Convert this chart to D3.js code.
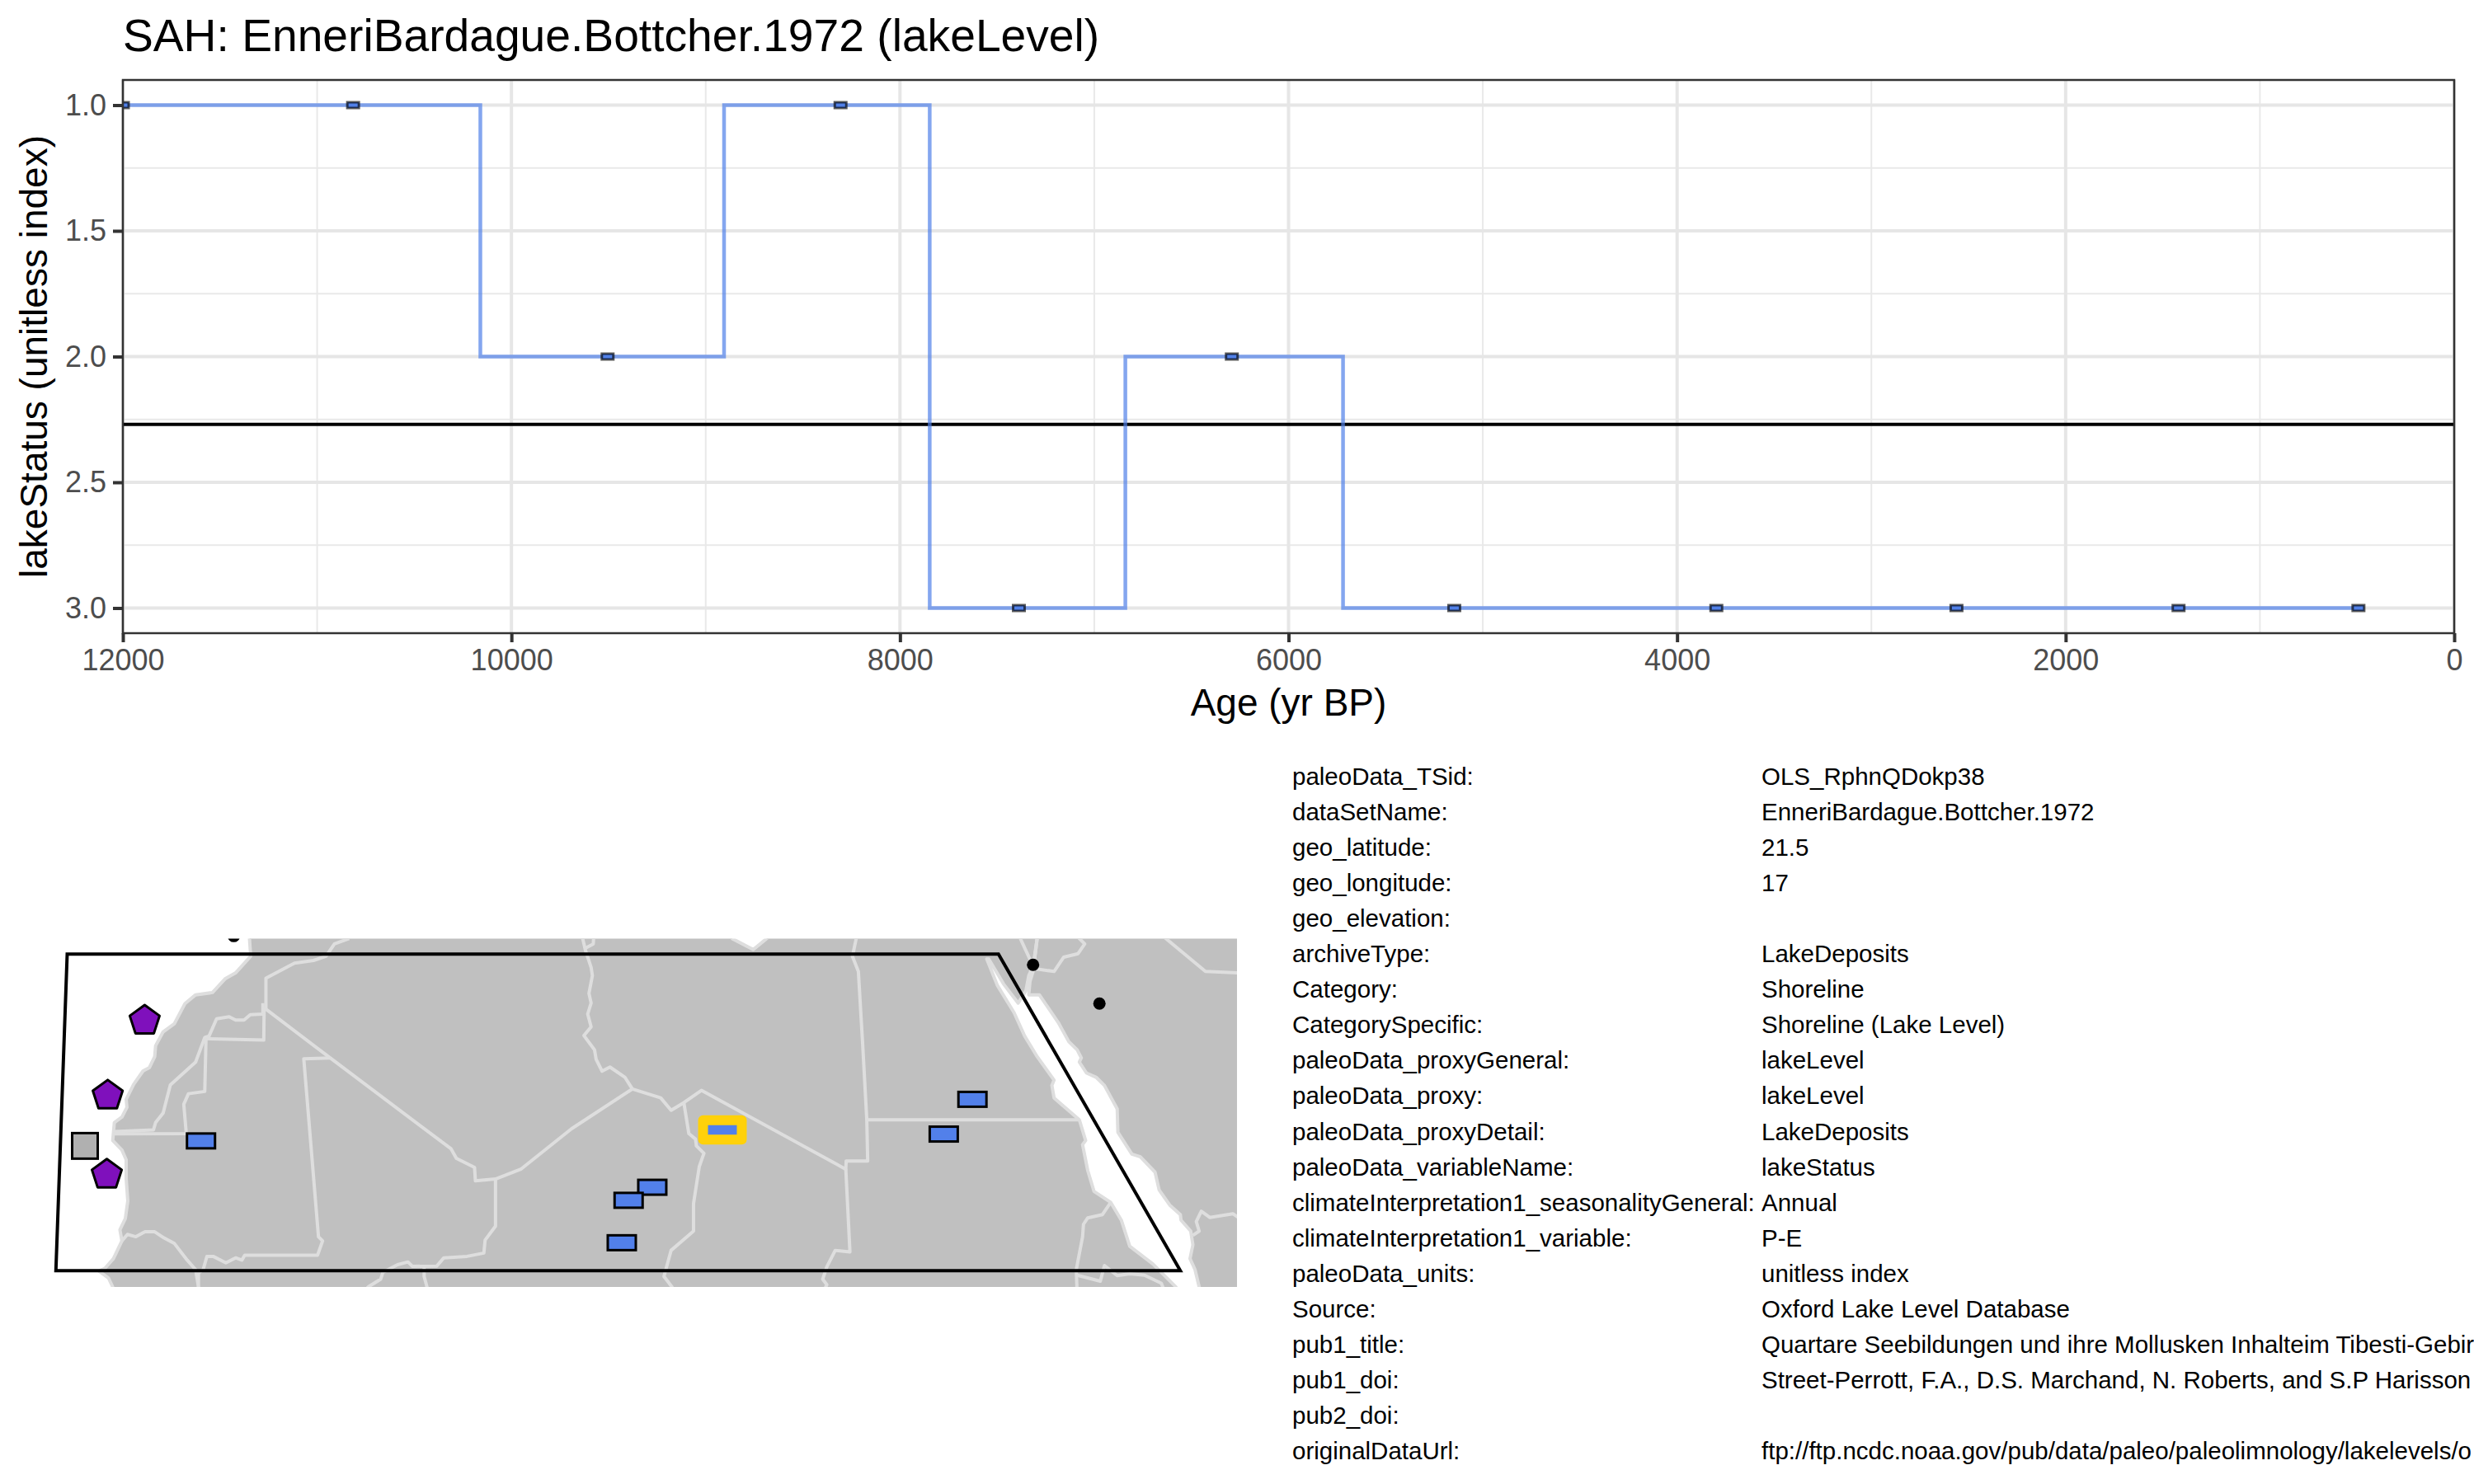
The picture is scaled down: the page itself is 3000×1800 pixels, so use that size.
<!DOCTYPE html>
<html>
<head>
<meta charset="utf-8">
<script src="https://cdn.jsdelivr.net/npm/d3@7"></script>
<style>
html, body { margin: 0; padding: 0; background: #fff; overflow: hidden; }
text { font-family: "Liberation Sans", Arial, sans-serif; }
</style>
</head>
<body>
<div id="chart"></div>
<script>
const titleText = "SAH: EnneriBardague.Bottcher.1972 (lakeLevel)";
const xLabel = "Age (yr BP)";
const yLabel = "lakeStatus (unitless index)";

// time series
const ages = [12000, 10815, 9505, 8306, 7388, 6292, 5147, 3798, 2562, 1419, 493];
const status = [1, 1, 2, 1, 3, 2, 3, 3, 3, 3, 3];
const meanStatus = 2.27;
const xMajor = [12000, 10000, 8000, 6000, 4000, 2000, 0];
const xMinor = [11000, 9000, 7000, 5000, 3000, 1000];
const yMajor = [1, 1.5, 2, 2.5, 3];
const yMinor = [1.25, 1.75, 2.25, 2.75];

// metadata table, long values stop where the reference runs off the page
const metaKeys = ["paleoData_TSid:", "dataSetName:", "geo_latitude:", "geo_longitude:", "geo_elevation:",
    "archiveType:", "Category:", "CategorySpecific:", "paleoData_proxyGeneral:", "paleoData_proxy:",
    "paleoData_proxyDetail:", "paleoData_variableName:", "climateInterpretation1_seasonalityGeneral:",
    "climateInterpretation1_variable:", "paleoData_units:", "Source:", "pub1_title:", "pub1_doi:",
    "pub2_doi:", "originalDataUrl:"];
const metaValues = ["OLS_RphnQDokp38", "EnneriBardague.Bottcher.1972", "21.5", "17", "",
    "LakeDeposits", "Shoreline", "Shoreline (Lake Level)", "lakeLevel", "lakeLevel",
    "LakeDeposits", "lakeStatus", "Annual", "P-E", "unitless index", "Oxford Lake Level Database",
    "Quartare Seebildungen und ihre Mollusken Inhalteim Tibesti-Gebir",
    "Street-Perrott, F.A., D.S. Marchand, N. Roberts, and S.P Harisson",
    "", "ftp://ftp.ncdc.noaa.gov/pub/data/paleo/paleolimnology/lakelevels/o"];

// map, all lon/lat
const africaLand = [[-9.4,31.2],[-9.3,29.89],[-10.14,29.09],[-10.73,28.8],[-11.43,28.14],[-12.37,28.03],[-12.96,27.61],
    [-13.55,26.64],[-14.18,26.24],[-14.6,25.57],[-14.65,25.04],[-14.95,24.51],[-15.3,24.35],[-15.82,23.71],[-16.24,22.98],
    [-16.2,22.59],[-16.48,22.12],[-16.9,21.86],[-16.99,20.99],[-16.48,20.53],[-16.24,20.06],[-16.24,19.13],[-16.15,18.07],
    [-16.29,17.21],[-16.59,16.68],[-16.48,16.14],[-16.95,15.28],[-17.42,14.82],[-17.77,14.68],[-17.23,14.35],[-16.99,13.91],
    [-16.9,13.5],[42.4,13.5],[42.29,13.91],[41,15.02],[39.71,15.88],[39.24,17.14],[38.65,18],[37.72,18.53],[37.37,19.53],
    [37.08,20.79],[37.25,20.99],[36.9,21.99],[35.49,23.05],[35.37,23.65],[35.49,23.91],[34.55,25.04],[33.85,26.04],
    [33.26,27.17],[32.32,28.5],[31.74,29.76],[31.85,29.76],[32.67,28.56],[33.49,27.63],[33.92,28.23],[34.08,28.96],
    [34.32,29.42],[34.55,30.75],[34.7,31.5],[19.6,31.5],[19.47,30.75],[18.72,30.22],[17.54,30.75],[17.2,31.5]];
const arabiaLand = [[34.32,29.16],[34.15,28.69],[34.08,28.03],[34.67,28.03],[35.72,26.7],[36.31,25.77],[36.78,25.37],
    [37.01,24.98],[36.9,24.78],[37.3,24.25],[37.83,24.05],[38.3,23.65],[39.01,22.52],[39.05,21.39],[39.83,20.33],
    [40.3,20.2],[41.12,19.46],[41.35,18.6],[41.94,17.87],[42.53,17.41],[42.57,17.14],[43.11,16.61],[43.23,15.95],
    [43.07,15.28],[43.35,14.75],[43.58,13.91],[43.7,13.5],[47,13.5],[47,31.5],[34.9,31.5],[34.55,30.75]];
const borders = [
    [[-3.81,30.75],[-4.63,30.49],[-5.1,29.89],[-5.8,29.69],[-6.86,29.56],[-8.45,28.83],[-8.45,27.37]],
    [[-8.62,27.63],[-8.62,27.1],[-9.32,27.07],[-9.67,26.81],[-10.14,26.81],[-10.5,26.97],[-11.2,26.87],[-11.62,26.04],
     [-11.86,25.97],[-12.37,24.78],[-13.78,23.67],[-14.18,22.32],[-14.6,21.86],[-14.72,21.5],[-16.9,21.42]],
    [[-11.79,25.91],[-8.57,25.84],[-8.55,27.43]],
    [[-11.79,25.91],[-11.86,23.36],[-12.77,23.25],[-13.03,22.74],[-12.89,21.32],[-16.9,21.31]],
    [[-8.55,27.4],[-4.87,24.98],[1.87,20.59],[2.17,20.13],[3.18,19.69],[3.23,19.04],[4.35,19.13],[5.76,19.6],[8.58,21.55],[11.98,23.48]],
    [[-4.87,24.98],[-6.34,24.94],[-5.52,16.34],[-5.29,16.14],[-5.57,15.45],[-9.63,15.45],[-9.79,15.21],[-10.14,15.32],
     [-10.68,15.08],[-11.39,15.39],[-11.74,15.39],[-11.95,14.75],[-12.21,14.6],[-12.21,13.5]],
    [[-16.48,16.14],[-16.17,16.45],[-15.7,16.34],[-15.19,16.58],[-14.65,16.58],[-14.13,16.28],[-13.55,16.01],[-12.84,15.21],[-12.37,14.75],[-12.21,13.91]],
    [[4.35,19.13],[4.35,16.85],[3.77,16.18],[3.7,15.55],[2.76,15.39],[1.47,15.32],[1.07,14.92],[-0.29,14.91],[-0.53,15.12],[-1.11,14.99],[-1.93,14.62],[-2.05,14.29],[-2.75,13.91],[-3.2,13.5]],
    [[0.37,14.88],[0.37,14.42],[0.53,13.91],[0.6,13.5]],
    [[9.21,31],[9.21,30.75],[9.37,30.16],[9.68,29.36],[9.75,28.96],[9.56,28.1],[9.68,27.63],[9.49,27.1],[9.68,26.48],[9.28,26.06],
     [9.87,25.37],[9.96,24.91],[10.29,24.34],[10.73,24.54],[11.56,24.05],[11.98,23.48]],
    [[9.37,30.29],[9.8,30.49],[9.84,31]],
    [[11.98,23.48],[13.56,23.05],[14.14,22.45],[14.85,22.82],[15.83,23.41],[23.88,19.6],[23.9,20],[25.1,20],[25.05,21.99],
     [24.82,25.64],[24.58,29.16],[24.25,29.89],[24.46,30.75],[24.5,31.2]],
    [[25.05,21.99],[36.9,21.99]],
    [[23.88,19.6],[24.11,15.61],[23.29,15.68],[22.82,14.88],[22.59,14.29],[22.82,14.02],[22.59,13.6]],
    [[14.85,22.82],[15.13,21.32],[15.5,21.06],[15.55,20.73],[15.97,20.37],[15.71,19.73],[15.39,17.94],[15.39,16.61],[14.14,15.68],[13.74,14.42],[14.19,13.91],[14.4,13.5]],
    [[38.65,18],[38.19,17.41],[37.37,17.25],[37.13,16.94],[37.08,16.34],[36.73,14.75],[36.78,13.5]],
    [[36.78,14.48],[38.07,14.19],[38.3,14.95],[39.01,14.46],[39.71,14.55],[40.53,14.48],[41.47,14.09],[41.7,13.6]],
    [[33.61,30.75],[34.32,29.42]],
    [[34.55,30.75],[34.32,29.2]],
    [[36.9,31],[36.9,30.75],[37.2,30.49],[36.83,30.02],[36.03,29.85],[35.49,29.16],[34.43,29.29]],
    [[41.1,31.2],[43.93,29.16],[46,29.08]],
    [[43.23,16.41],[43.58,16.61],[43.42,17.07],[43.7,17.57],[44.17,17.27],[45.46,17.45],[45.69,17.31],[46,17.2]]
];
const regionBox = [[-19.53,30],[-20.16,14.7],[42.53,14.7],[32.39,30]];
const blackSites = [[-10.24,30.87],[34.32,29.48],[38.02,27.61]];
const blueSites = [[-12.07,20.97],[11.39,16.05],[13.09,18.73],[11.77,18.1],[30.94,22.98],[29.34,21.3]];
const graySites = [[-18.54,20.73]];
const purpleSites = [[-15.21,26.78],[-17.27,23.16],[-17.32,19.34]];
const thisSite = [17, 21.5];

const width = 3000, height = 1800;
const panel = {left: 149, right: 2976, top: 97, bottom: 768};

const svg = d3.select("#chart").append("svg")
    .attr("width", width)
    .attr("height", height)
    .style("display", "block");

const x = d3.scaleLinear().domain([12000, 0]).range([panel.left, panel.right]);
const y = d3.scaleLinear().domain([0.9, 3.1]).range([panel.top, panel.bottom]);

const defs = svg.append("defs");
defs.append("clipPath").attr("id", "panelClip").append("rect")
    .attr("x", panel.left).attr("y", panel.top)
    .attr("width", panel.right - panel.left).attr("height", panel.bottom - panel.top);
defs.append("clipPath").attr("id", "mapClip").append("rect")
    .attr("x", 0).attr("y", 1138.5).attr("width", 1500).attr("height", 422.5);

// top panel grid
const grid = svg.append("g").attr("fill", "none");
grid.selectAll(".xmin").data(xMinor).join("line").attr("class", "xmin")
    .attr("x1", d => x(d)).attr("x2", d => x(d)).attr("y1", panel.top).attr("y2", panel.bottom)
    .attr("stroke", "#E9E9E9").attr("stroke-width", 2);
grid.selectAll(".ymin").data(yMinor).join("line").attr("class", "ymin")
    .attr("y1", d => y(d)).attr("y2", d => y(d)).attr("x1", panel.left).attr("x2", panel.right)
    .attr("stroke", "#E9E9E9").attr("stroke-width", 2);
grid.selectAll(".xmaj").data(xMajor).join("line").attr("class", "xmaj")
    .attr("x1", d => x(d)).attr("x2", d => x(d)).attr("y1", panel.top).attr("y2", panel.bottom)
    .attr("stroke", "#E6E6E6").attr("stroke-width", 4);
grid.selectAll(".ymaj").data(yMajor).join("line").attr("class", "ymaj")
    .attr("y1", d => y(d)).attr("y2", d => y(d)).attr("x1", panel.left).attr("x2", panel.right)
    .attr("stroke", "#E6E6E6").attr("stroke-width", 4);

const plot = svg.append("g").attr("clip-path", "url(#panelClip)");

plot.append("line")
    .attr("x1", panel.left).attr("x2", panel.right)
    .attr("y1", y(meanStatus)).attr("y2", y(meanStatus))
    .attr("stroke", "#000").attr("stroke-width", 4);

const series = ages.map((a, i) => ({age: a, value: status[i]}));

plot.append("path")
    .datum(series)
    .attr("fill", "none")
    .attr("stroke", "#5080E8")
    .attr("stroke-opacity", 0.7)
    .attr("stroke-width", 4.5)
    .attr("d", d3.line().curve(d3.curveStep).x(d => x(d.age)).y(d => y(d.value)));

plot.selectAll(".pt").data(series).join("rect")
    .attr("class", "pt")
    .attr("x", d => x(d.age) - 7)
    .attr("y", d => y(d.value) - 3.5)
    .attr("width", 14)
    .attr("height", 7)
    .attr("fill", "#5080E8")
    .attr("stroke", "#000")
    .attr("stroke-opacity", 0.65)
    .attr("stroke-width", 3);

svg.append("rect")
    .attr("x", panel.left).attr("y", panel.top)
    .attr("width", panel.right - panel.left).attr("height", panel.bottom - panel.top)
    .attr("fill", "none").attr("stroke", "#333333").attr("stroke-width", 2.5);

// axes
const xAxis = svg.append("g").attr("transform", `translate(0,${panel.bottom})`)
    .call(d3.axisBottom(x).tickValues(xMajor).tickFormat(d3.format("d")).tickSize(11).tickPadding(8));
const yAxis = svg.append("g").attr("transform", `translate(${panel.left},0)`)
    .call(d3.axisLeft(y).tickValues(yMajor).tickFormat(d3.format(".1f")).tickSize(12).tickPadding(8));
[xAxis, yAxis].forEach(a => {
    a.select(".domain").remove();
    a.selectAll("line").attr("stroke", "#333333").attr("stroke-width", 4);
    a.selectAll("text").attr("fill", "#4D4D4D").style("font-size", "36px").style("font-family", '"Liberation Sans"');
});

svg.append("text")
    .attr("x", panel.left).attr("y", 62)
    .attr("font-size", 55.2).attr("fill", "#000")
    .text(titleText);

svg.append("text")
    .attr("x", (panel.left + panel.right) / 2).attr("y", 868)
    .attr("text-anchor", "middle")
    .attr("font-size", 46).attr("fill", "#000")
    .text(xLabel);

svg.append("text")
    .attr("transform", `translate(57,${(panel.top + panel.bottom) / 2}) rotate(-90)`)
    .attr("text-anchor", "middle")
    .attr("font-size", 46).attr("fill", "#000")
    .text(yLabel);

// map panel
const lon = d3.scaleLinear().domain([-20, 45]).range([71.25, 1485]);
const lat = d3.scaleLinear().domain([14, 31]).range([1558.8, 1132.1]);
const geoLine = d3.line().x(d => lon(d[0])).y(d => lat(d[1]));

const map = svg.append("g").attr("clip-path", "url(#mapClip)");

map.selectAll(".land").data([africaLand, arabiaLand]).join("path")
    .attr("class", "land")
    .attr("d", d => geoLine(d) + "Z")
    .attr("fill", "#C0C0C0")
    .attr("stroke", "#DEDEDE")
    .attr("stroke-width", 4)
    .attr("stroke-linejoin", "round");

map.selectAll(".border").data(borders).join("path")
    .attr("class", "border")
    .attr("d", d => geoLine(d))
    .attr("fill", "none")
    .attr("stroke", "#DEDEDE")
    .attr("stroke-width", 4)
    .attr("stroke-linejoin", "round");

map.append("path")
    .attr("d", geoLine(regionBox) + "Z")
    .attr("fill", "none")
    .attr("stroke", "#000")
    .attr("stroke-width", 4)
    .attr("stroke-linejoin", "miter");

map.selectAll(".dot").data(blackSites).join("circle")
    .attr("class", "dot")
    .attr("cx", d => lon(d[0])).attr("cy", d => lat(d[1]))
    .attr("r", 7.5)
    .attr("fill", "#000");

map.selectAll(".gray").data(graySites).join("rect")
    .attr("class", "gray")
    .attr("x", d => lon(d[0]) - 15.5).attr("y", d => lat(d[1]) - 15.5)
    .attr("width", 31).attr("height", 31)
    .attr("fill", "#B0B0B0").attr("stroke", "#000").attr("stroke-width", 3);

const pentagon = d3.range(5).map(i => {
    const t = -Math.PI / 2 + i * 2 * Math.PI / 5;
    return [19 * Math.cos(t), 19 * Math.sin(t)];
});
map.selectAll(".purple").data(purpleSites).join("path")
    .attr("class", "purple")
    .attr("transform", d => `translate(${lon(d[0])},${lat(d[1])})`)
    .attr("d", d3.line()(pentagon) + "Z")
    .attr("fill", "#7F10BC").attr("stroke", "#000").attr("stroke-width", 3).attr("stroke-linejoin", "round");

map.selectAll(".blue").data(blueSites).join("rect")
    .attr("class", "blue")
    .attr("x", d => lon(d[0]) - 17).attr("y", d => lat(d[1]) - 9)
    .attr("width", 34).attr("height", 18)
    .attr("fill", "#5280EA").attr("stroke", "#000").attr("stroke-width", 3);

map.append("rect")
    .attr("x", lon(thisSite[0]) - 23.5).attr("y", lat(thisSite[1]) - 11.75)
    .attr("width", 47).attr("height", 23.5)
    .attr("fill", "#5280EA").attr("stroke", "#FFD10A").attr("stroke-width", 12)
    .attr("stroke-linejoin", "round");

// metadata text
const rowY = d3.scaleLinear().domain([0, 19]).range([952, 1770]);
const table = svg.append("g").attr("font-size", 29.5).attr("fill", "#000");
table.selectAll(".key").data(metaKeys).join("text")
    .attr("class", "key")
    .attr("x", 1567).attr("y", (d, i) => rowY(i))
    .text(d => d);
table.selectAll(".val").data(metaValues).join("text")
    .attr("class", "val")
    .attr("x", 2136).attr("y", (d, i) => rowY(i))
    .text(d => d);
</script>
</body>
</html>
